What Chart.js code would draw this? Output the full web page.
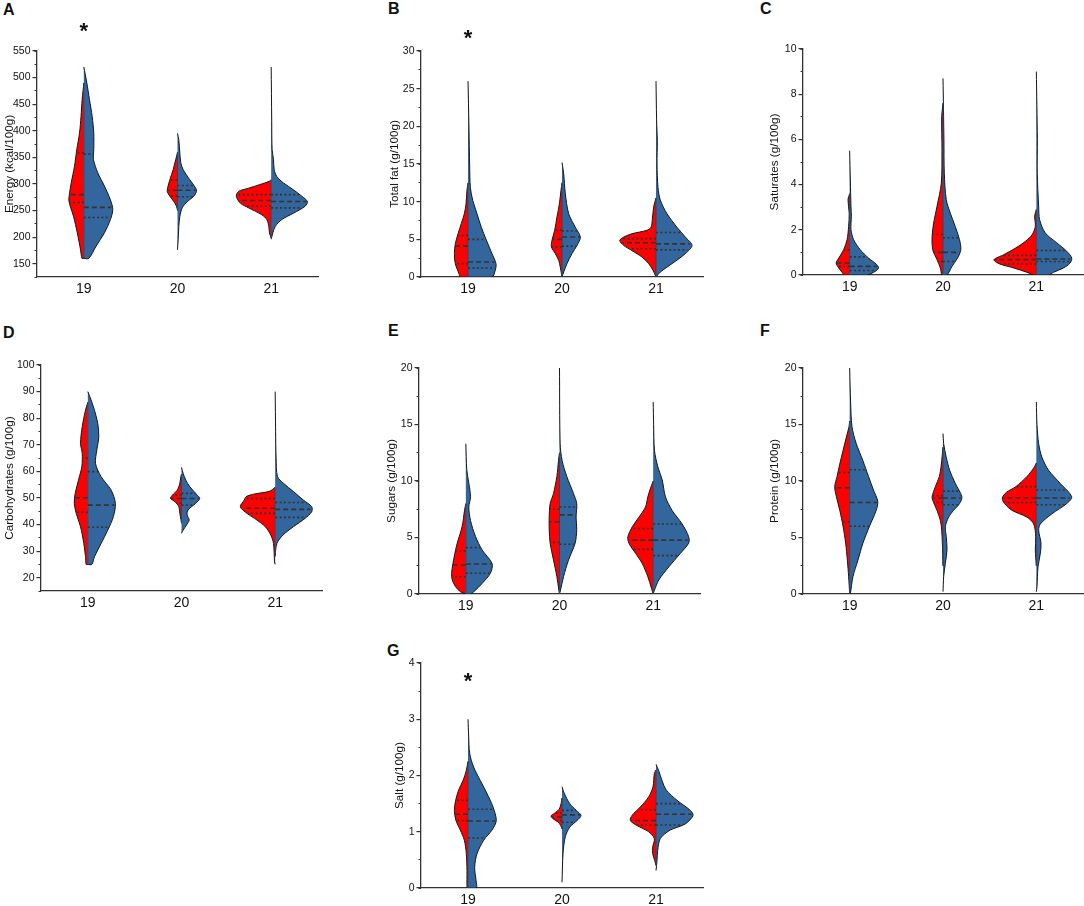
<!DOCTYPE html>
<html><head><meta charset="utf-8">
<script src="https://cdn.jsdelivr.net/npm/chart.js@4.4.1/dist/chart.umd.min.js"></script>
<style>
html,body{margin:0;padding:0;background:#fff;overflow:hidden;}
#page{position:relative;width:1084px;height:906px;overflow:hidden;font-family:"Liberation Sans",Arial,sans-serif;background:#fff;}
.lbl{position:absolute;font-weight:bold;font-size:16px;line-height:16px;color:#111;}
canvas{position:absolute;}
</style></head><body><div id="page">
<div class="lbl" style="left:3px;top:2px">A</div>
<div class="lbl" style="left:388px;top:1px">B</div>
<div class="lbl" style="left:760px;top:1px">C</div>
<div class="lbl" style="left:3px;top:325px">D</div>
<div class="lbl" style="left:388px;top:323px">E</div>
<div class="lbl" style="left:760px;top:323px">F</div>
<div class="lbl" style="left:387px;top:643px">G</div>
</div>
<script>
// ---------- categories & ticks ----------
const categories = [19, 20, 21];
const xTickLabels = [19, 20, 21];
const energyTicks = [150,200,250,300,350,400,450,500,550];
const fatTicks = [0,5,10,15,20,25,30];
const satTicks = [0,2,4,6,8,10];
const carbTicks = [20,30,40,50,60,70,80,90,100];
const sugarTicks = [0,5,10,15,20];
const proteinTicks = [0,5,10,15,20];
const saltTicks = [0,1,2,3,4];

// ---------- violin half profiles: [value, half width in category units] ----------
// A Energy
const energyRed19 = [[160,0.02],[176,0.035],[208,0.07],[239,0.11],[258,0.145],[270,0.16],[283,0.152],[302,0.135],[333,0.10],[365,0.075],[396,0.046],[427,0.03],[459,0.018],[490,0]];
const energyBlue19 = [[160,0.053],[183,0.131],[208,0.22],[233,0.284],[252,0.309],[270,0.284],[296,0.22],[321,0.149],[346,0.103],[365,0.106],[396,0.106],[427,0.089],[459,0.06],[490,0.032],[520,0]];
const energyRed20 = [[250,0],[258,0.011],[267,0.04],[277,0.082],[286,0.11],[292,0.106],[308,0.082],[327,0.046],[340,0.028],[352,0.01],[360,0]];
const energyBlue20 = [[176,0],[195,0.007],[220,0.014],[239,0.025],[255,0.05],[267,0.106],[277,0.174],[286,0.202],[292,0.195],[308,0.131],[327,0.06],[340,0.035],[358,0.025],[383,0.014],[395,0]];
const energyRed21 = [[198,0],[208,0.018],[220,0.025],[233,0.046],[242,0.1],[255,0.241],[264,0.33],[277,0.372],[286,0.348],[292,0.241],[299,0.117],[305,0.02],[308,0]];
const energyBlue21 = [[196,0],[208,0.018],[220,0.043],[233,0.113],[245,0.238],[258,0.362],[267,0.387],[277,0.326],[289,0.238],[302,0.131],[314,0.06],[327,0.032],[346,0.025],[365,0.01],[420,0.006],[520,0]];
// B Total fat
const fatRed19 = [[0,0.082],[0.44,0.096],[1.77,0.135],[3.1,0.145],[4.4,0.135],[5.75,0.106],[7.1,0.071],[8.4,0.039],[9.7,0.021],[11.5,0.011],[12.5,0]];
const fatBlue19 = [[0,0.255],[0.9,0.29],[1.77,0.298],[3.1,0.255],[4.9,0.195],[6.6,0.142],[8.4,0.096],[10.2,0.05],[11.9,0.025],[14.6,0.018],[20,0.01],[26,0]];
const fatRed20 = [[0,0],[1.3,0.018],[2.2,0.035],[3.1,0.071],[4.0,0.113],[4.9,0.106],[6.2,0.078],[8.0,0.053],[9.7,0.028],[11.5,0.011],[12.5,0]];
const fatBlue20 = [[0,0],[0.66,0.018],[1.77,0.053],[3.1,0.106],[4.2,0.16],[5.3,0.195],[6.6,0.142],[8.4,0.071],[11.1,0.035],[13.7,0.018],[15.2,0]];
const fatRed21 = [[0,0],[0.9,0.032],[1.77,0.078],[2.65,0.149],[3.5,0.255],[4.2,0.344],[4.85,0.386],[5.3,0.344],[5.75,0.255],[6.2,0.096],[6.6,0.053],[7.5,0.04],[9.3,0.025],[10.5,0]];
const fatBlue21 = [[0,0],[0.66,0.046],[1.77,0.17],[3.1,0.312],[4.2,0.383],[5.3,0.312],[6.6,0.223],[8.4,0.117],[10.2,0.046],[11.9,0.021],[15,0.011],[18,0.014],[21,0.006],[26,0]];
// C Saturates
const satRed19 = [[0,0.057],[0.12,0.082],[0.31,0.117],[0.53,0.145],[0.75,0.117],[1.12,0.064],[1.56,0.028],[2.15,0.011],[2.74,0.005],[3.33,0.018],[3.6,0]];
const satBlue19 = [[0,0.184],[0.16,0.273],[0.31,0.309],[0.46,0.29],[0.75,0.202],[1.12,0.113],[1.56,0.043],[2.0,0.014],[2.6,0.018],[3.04,0.014],[4.2,0.007],[5.5,0]];
const satRed20 = [[0,0.014],[0.31,0.028],[0.68,0.064],[1.12,0.11],[1.71,0.117],[2.3,0.1],[3.04,0.064],[4.07,0.018],[5.5,0.011],[7.0,0.014],[7.6,0]];
const satBlue20 = [[0,0.043],[0.38,0.096],[0.75,0.156],[1.12,0.191],[1.56,0.177],[2.15,0.131],[2.74,0.078],[3.33,0.035],[4.5,0.014],[6,0.01],[8.7,0]];
const satRed21 = [[0,0.028],[0.12,0.1],[0.31,0.241],[0.5,0.4],[0.68,0.454],[0.9,0.348],[1.19,0.223],[1.49,0.117],[1.78,0.046],[2.15,0.011],[2.6,0.018],[2.9,0]];
const satBlue21 = [[0,0.131],[0.12,0.184],[0.31,0.29],[0.53,0.362],[0.75,0.379],[1.05,0.326],[1.42,0.22],[1.86,0.096],[2.45,0.035],[3.04,0.025],[4.5,0.01],[6,0.011],[9,0]];
// D Carbohydrates
const carbRed19 = [[25,0.018],[27.9,0.025],[32.9,0.043],[39.2,0.078],[44.2,0.124],[48,0.145],[51.7,0.135],[56.7,0.1],[61.8,0.064],[66.8,0.06],[70.5,0.078],[76.8,0.06],[83,0.025],[86,0]];
const carbBlue19 = [[25,0.043],[27.9,0.071],[32.9,0.142],[37.9,0.213],[43,0.273],[48,0.294],[53,0.248],[58,0.142],[63,0.082],[68,0.096],[73,0.117],[78,0.106],[83,0.071],[86.8,0.035],[90,0]];
const carbRed20 = [[40.5,0],[42,0.007],[44.2,0.018],[46.7,0.028],[48.6,0.071],[49.8,0.117],[51.1,0.096],[53,0.043],[55.5,0.018],[58,0.007],[59,0]];
const carbBlue20 = [[36.7,0],[37.9,0.018],[39.8,0.053],[41.7,0.082],[43.6,0.06],[45.5,0.071],[48,0.152],[49.8,0.195],[51.1,0.167],[54.2,0.089],[56.7,0.046],[59.2,0.018],[61.5,0]];
const carbRed21 = [[25,0],[26,0.007],[32.9,0.018],[36,0.046],[39.2,0.106],[41.7,0.195],[44.2,0.301],[46.7,0.372],[49.2,0.33],[50.5,0.31],[51.5,0.22],[52.5,0.06],[54,0]];
const carbBlue21 = [[28,0],[32.9,0.018],[36,0.082],[39.2,0.195],[42.3,0.319],[44.8,0.39],[46.7,0.39],[49.2,0.301],[52.4,0.195],[55.5,0.089],[58,0.025],[65,0.01],[75,0.005],[90,0]];
// E Sugars
const sugarRed19 = [[0,0],[0.2,0.057],[0.65,0.11],[1.24,0.145],[1.83,0.152],[2.7,0.138],[3.6,0.117],[4.5,0.092],[6.0,0.039],[7.4,0.014],[8,0]];
const sugarBlue19 = [[0,0.05],[0.2,0.085],[0.94,0.174],[1.83,0.262],[2.7,0.28],[3.9,0.174],[5.1,0.103],[6.5,0.05],[7.7,0.032],[8.6,0.05],[9.8,0.032],[11,0.01],[13.3,0]];
const sugarRed20 = [[0,0],[0.35,0.007],[1.53,0.028],[3.0,0.064],[4.5,0.1],[5.7,0.11],[6.8,0.11],[8.0,0.1],[8.9,0.064],[10.4,0.028],[11.8,0.011],[12.5,0]];
const sugarBlue20 = [[0,0],[0.35,0.011],[1.53,0.043],[3.0,0.096],[4.5,0.167],[5.7,0.184],[6.8,0.177],[8.0,0.184],[8.9,0.149],[10.4,0.078],[11.8,0.028],[13.3,0.007],[20,0]];
const sugarRed21 = [[0,0],[0.5,0.018],[1.53,0.057],[2.7,0.117],[3.6,0.188],[4.5,0.259],[5.07,0.27],[5.95,0.223],[6.8,0.152],[7.7,0.082],[8.6,0.057],[9.2,0.035],[10,0]];
const sugarBlue21 = [[0,0],[0.35,0.014],[1.24,0.06],[2.4,0.167],[3.6,0.291],[4.5,0.379],[5.07,0.379],[6.2,0.309],[7.4,0.202],[8.6,0.131],[10.1,0.096],[11.25,0.05],[12.7,0.014],[15,0.005],[17,0]];
// F Protein
const proteinRed19 = [[0,0],[1.53,0.011],[3.0,0.025],[4.5,0.043],[6.0,0.071],[7.4,0.106],[8.6,0.142],[9.5,0.16],[10.4,0.135],[11.5,0.106],[12.7,0.071],[13.9,0.035],[14.8,0.007],[15.3,0]];
const proteinBlue19 = [[0,0.007],[1.53,0.035],[3.0,0.089],[4.5,0.142],[6.0,0.213],[7.4,0.284],[8.2,0.301],[9.2,0.255],[10.4,0.202],[11.8,0.142],[13.3,0.071],[14.8,0.025],[17,0.01],[20,0]];
const proteinRed20 = [[2.5,0],[4.5,0.007],[5.65,0.014],[6.5,0.028],[7.4,0.064],[8.2,0.106],[8.6,0.117],[9.5,0.082],[10.4,0.039],[11.25,0.021],[12.4,0.007],[13,0]];
const proteinBlue20 = [[0.2,0],[1.53,0.007],[2.7,0.025],[3.9,0.043],[5.07,0.035],[5.95,0.025],[6.8,0.06],[7.4,0.113],[8.0,0.177],[8.6,0.202],[9.8,0.131],[10.95,0.071],[12.1,0.035],[13.3,0.007],[14.2,0]];
const proteinRed21 = [[2.5,0],[3.9,0.011],[5.07,0.007],[6.2,0.028],[6.8,0.1],[7.4,0.26],[8.0,0.34],[8.5,0.365],[9.0,0.32],[9.5,0.22],[10.4,0.1],[11.25,0.02],[11.6,0]];
const proteinBlue21 = [[0.2,0],[0.65,0.007],[2.4,0.018],[3.6,0.043],[4.5,0.05],[5.65,0.025],[6.2,0.043],[7.1,0.167],[8.0,0.326],[8.6,0.379],[9.8,0.255],[10.95,0.131],[12.1,0.06],[13.3,0.025],[15,0.007],[17,0]];
// G Salt
const saltRed19 = [[0,0.01],[0.31,0.011],[0.61,0.018],[0.85,0.039],[1.03,0.082],[1.2,0.128],[1.38,0.145],[1.56,0.131],[1.74,0.1],[1.91,0.053],[2.09,0.018],[2.25,0]];
const saltBlue19 = [[0,0.089],[0.14,0.085],[0.37,0.071],[0.61,0.096],[0.85,0.167],[1.03,0.255],[1.2,0.301],[1.44,0.266],[1.68,0.202],[1.91,0.131],[2.15,0.06],[2.39,0.018],[2.7,0.007],[3.0,0]];
const saltRed20 = [[1.05,0],[1.11,0.014],[1.17,0.04],[1.23,0.095],[1.28,0.117],[1.33,0.08],[1.4,0.03],[1.5,0.01],[1.6,0]];
const saltBlue20 = [[0.1,0],[0.61,0.011],[0.91,0.035],[1.08,0.082],[1.2,0.16],[1.29,0.202],[1.38,0.152],[1.5,0.082],[1.68,0.025],[1.8,0]];
const saltRed21 = [[0.4,0],[0.49,0.014],[0.61,0.035],[0.73,0.035],[0.88,0.018],[1.0,0.078],[1.11,0.202],[1.2,0.273],[1.29,0.255],[1.44,0.167],[1.62,0.078],[1.8,0.032],[2.03,0.018],[2.1,0]];
const saltBlue21 = [[0.31,0],[0.49,0.011],[0.67,0.018],[0.88,0.046],[1.03,0.152],[1.14,0.312],[1.29,0.394],[1.38,0.365],[1.56,0.223],[1.74,0.11],[1.91,0.064],[2.09,0.028],[2.2,0]];

// ---------- quartiles per year (19,20,21): [Q1, median, Q3] ----------
const energyRedQ = [[265,280,358],[277,288,307],[258,269,280]];
const energyBlueQ = [[237,256,356],[276,288,297],[255,267,280]];
const fatRedQ = [[1.77,4.1,5.5],[4.0,5.0,6.2],[3.75,4.55,5.1]];
const fatBlueQ = [[1.2,2.0,5.0],[4.1,5.3,6.1],[3.6,4.4,5.9]];
const satRedQ = [[0.38,0.53,1.12],[0.6,1.0,1.8],[0.49,0.68,0.87]];
const satBlueQ = [[0.2,0.38,0.8],[0.6,1.0,1.65],[0.6,0.71,1.09]];
const carbRedQ = [[44.6,50.1,64.9],[48,49.8,51.1],[44.2,46.1,49.8]];
const carbBlueQ = [[39,47.3,59.9],[47.3,49.8,51.7],[42.7,45.7,48.3]];
const sugarRedQ = [[1.53,2.56,3.8],[4.56,6.4,7.5],[3.95,4.77,5.8]];
const sugarBlueQ = [[1.83,2.65,4.1],[4.4,7.0,7.7],[3.4,4.77,6.2]];
const proteinRedQ = [[6.4,9.4,10.75],[8.1,8.5,8.7],[8.1,8.5,9.5]];
const proteinBlueQ = [[6.0,8.1,11.0],[7.9,8.5,9.1],[7.9,8.5,9.2]];
const saltRedQ = [[1.2,1.31,1.56],[1.2,1.26,1.33],[1.12,1.2,1.39]];
const saltBlueQ = [[0.89,1.19,1.4],[1.17,1.3,1.38],[1.12,1.31,1.5]];

// ---------- significance markers [category, value] ----------
const energyStar = [[19, 593]];
const fatStar = [[19, 32.1]];
const saltStar = [[19, 3.73]];

// ---------- styling / layout ----------
const RED = '#ff0000', BLUE = '#33669c';
const FONT = '"Liberation Sans", Arial, sans-serif';
const page = document.getElementById('page');

const panels = [
  {title:'Energy (kcal/100g)', min:125, max:550, ticks:energyTicks, minorStep:25,
   red:[energyRed19,energyRed20,energyRed21], blue:[energyBlue19,energyBlue20,energyBlue21],
   qRed:energyRedQ, qBlue:energyBlueQ, star:energyStar, ca:[37,51,318,277], gap:27},
  {title:'Total fat (g/100g)', min:0, max:30, ticks:fatTicks, minorStep:2.5,
   red:[fatRed19,fatRed20,fatRed21], blue:[fatBlue19,fatBlue20,fatBlue21],
   qRed:fatRedQ, qBlue:fatBlueQ, star:fatStar, ca:[421,51,703,277], gap:26},
  {title:'Saturates (g/100g)', min:0, max:10, ticks:satTicks, minorStep:1,
   red:[satRed19,satRed20,satRed21], blue:[satBlue19,satBlue20,satBlue21],
   qRed:satRedQ, qBlue:satBlueQ, star:[], ca:[803,49,1083,275], gap:28},
  {title:'Carbohydrates (g/100g)', min:15, max:100, ticks:carbTicks, minorStep:5,
   red:[carbRed19,carbRed20,carbRed21], blue:[carbBlue19,carbBlue20,carbBlue21],
   qRed:carbRedQ, qBlue:carbBlueQ, star:[], ca:[41,365,322,591], gap:31},
  {title:'Sugars (g/100g)', min:0, max:20, ticks:sugarTicks, minorStep:2.5,
   red:[sugarRed19,sugarRed20,sugarRed21], blue:[sugarBlue19,sugarBlue20,sugarBlue21],
   qRed:sugarRedQ, qBlue:sugarBlueQ, star:[], ca:[419,368,700,594], gap:27},
  {title:'Protein (g/100g)', min:0, max:20, ticks:proteinTicks, minorStep:2.5,
   red:[proteinRed19,proteinRed20,proteinRed21], blue:[proteinBlue19,proteinBlue20,proteinBlue21],
   qRed:proteinRedQ, qBlue:proteinBlueQ, star:[], ca:[803,368,1083,594], gap:28},
  {title:'Salt (g/100g)', min:0, max:4, ticks:saltTicks, minorStep:0.5,
   red:[saltRed19,saltRed20,saltRed21], blue:[saltBlue19,saltBlue20,saltBlue21],
   qRed:saltRedQ, qBlue:saltBlueQ, star:saltStar, ca:[421,663,703,888], gap:21}
];

function widthAt(half, y) {
  for (let i = 0; i < half.length - 1; i++) {
    const [y0, w0] = half[i], [y1, w1] = half[i + 1];
    if (y >= y0 && y <= y1) return w0 + (w1 - w0) * (y - y0) / (y1 - y0);
  }
  return 0;
}
function polygon(half, c, side) {
  const pts = [{x: c, y: half[0][0]}];
  half.forEach(([y, w]) => pts.push({x: c + side * w, y}));
  pts.push({x: c, y: half[half.length - 1][0]});
  return pts;
}
function makeStar(points) {
  return {id: 'star', afterDraw(chart) {
    const ctx = chart.ctx, xs = chart.scales.x, ys = chart.scales.y;
    const size = 22;
    ctx.save();
    ctx.fillStyle = '#111';
    ctx.font = 'bold ' + size + 'px ' + FONT;
    ctx.textAlign = 'center';
    ctx.textBaseline = 'alphabetic';
    points.forEach(([px, py]) => ctx.fillText('*', xs.getPixelForValue(px), ys.getPixelForValue(py) + 0.45 * size));
    ctx.restore();
  }};
}

panels.forEach(p => {
  const [l, t, r, b] = p.ca;
  const axisW = Math.min(40, l);
  const cl = l - axisW, ct = t - 48;
  const cw = Math.min(1084, r + 4) - cl;
  const ch = b + 26 - ct;
  const XH = 24;
  const TFS = 11.7;
  const cv = document.createElement('canvas');
  cv.width = cw; cv.height = ch;
  cv.style.left = cl + 'px'; cv.style.top = ct + 'px';
  cv.style.width = cw + 'px'; cv.style.height = ch + 'px';
  page.appendChild(cv);

  const datasets = [];
  categories.forEach((c, k) => {
    const R = p.red[k], B = p.blue[k];
    [[R, -1, RED, p.qRed[k]], [B, 1, BLUE, p.qBlue[k]]].forEach(([half, side, col, q]) => {
      datasets.push({data: polygon(half, c, side), backgroundColor: col, borderColor: '#161616',
        borderWidth: 1, fill: 'shape', tension: 0.3, pointRadius: 0, order: 3, xAxisID: 'x', yAxisID: 'y'});
      q.forEach((qv, j) => datasets.push({
        data: [{x: c, y: qv}, {x: c + side * widthAt(half, qv) * 0.97, y: qv}],
        borderColor: '#333', borderWidth: 1.6, borderDash: j === 1 ? [5, 3] : [2, 2.4],
        pointRadius: 0, fill: false, tension: 0, order: 1, xAxisID: 'x', yAxisID: 'y'}));
    });
    const lo = Math.max(R[0][0], B[0][0]);
    const hi = Math.min(R[R.length - 1][0], B[B.length - 1][0]);
    datasets.push({data: [{x: c, y: lo}, {x: c, y: hi}], borderColor: '#24496d', borderWidth: 1,
      pointRadius: 0, fill: false, order: 2, xAxisID: 'x', yAxisID: 'y'});
  });

  const minors = [];
  for (let v = p.min; v <= p.max + 1e-9; v += p.minorStep) minors.push(+v.toFixed(4));

  new Chart(cv, {
    type: 'line',
    data: {datasets},
    options: {
      responsive: false, animation: false, events: [],
      layout: {padding: {left: 0, top: t - ct, right: cw - (r - cl), bottom: ch - (b - ct) - XH}},
      plugins: {legend: {display: false}, tooltip: {enabled: false}},
      scales: {
        x: {type: 'linear', position: 'bottom', min: 18.5, max: 21.5,
          afterBuildTicks: s => { s.ticks = xTickLabels.map(v => ({value: v})); },
          afterFit: s => { s.height = XH; },
          grid: {display: false, drawTicks: false},
          border: {display: true, color: '#333', width: 1.3},
          ticks: {font: {family: FONT, size: 14}, color: '#111', padding: 4, maxRotation: 0, autoSkip: false, callback: v => String(v)}},
        y: {type: 'linear', position: 'left', weight: 1, min: p.min, max: p.max,
          afterBuildTicks: s => { s.ticks = p.ticks.map(v => ({value: v})); },
          afterFit: s => { s.width = axisW; },
          grid: {drawOnChartArea: false, drawTicks: true, tickLength: 4.5, color: '#333', lineWidth: 1.2},
          border: {display: true, color: '#333', width: 1.3},
          ticks: {font: {family: FONT, size: 10.5}, color: '#111', padding: 2, autoSkip: false, callback: v => String(v)},
          title: {display: true, text: p.title, font: {family: FONT, size: TFS}, color: '#111',
                  padding: {top: axisW - p.gap - TFS * 0.6, bottom: 0}}},
        ym: {type: 'linear', position: 'left', weight: 0, min: p.min, max: p.max,
          afterBuildTicks: s => { s.ticks = minors.map(v => ({value: v})); },
          afterFit: s => { s.width = 0; },
          grid: {drawOnChartArea: false, drawTicks: true, tickLength: 2.5, color: '#333', lineWidth: 1},
          border: {display: false},
          ticks: {autoSkip: false, callback: () => ''}}
      }
    },
    plugins: [makeStar(p.star)]
  });
});
</script></body></html>
